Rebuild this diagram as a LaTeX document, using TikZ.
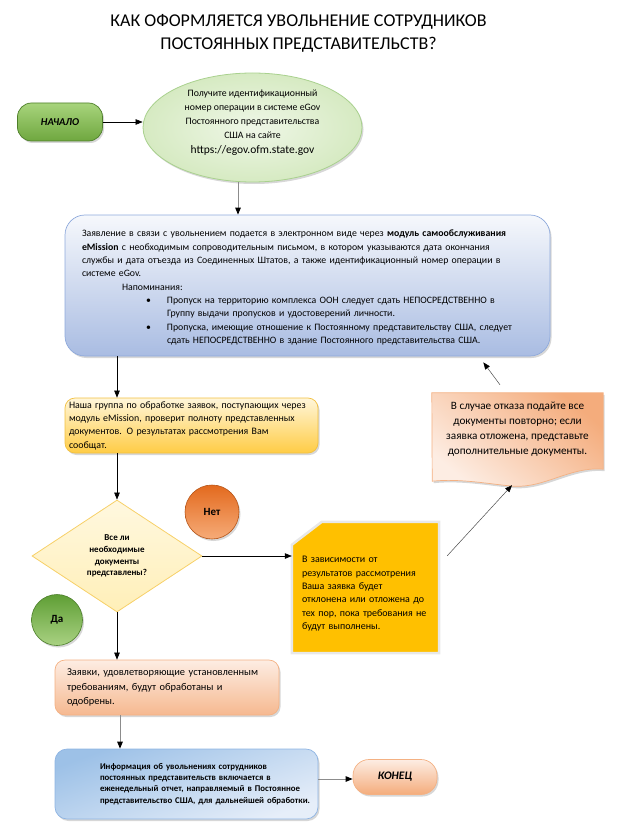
\documentclass[tikz,border=0pt]{standalone}
\usepackage{fontspec}
\setmainfont{Carlito}
\usetikzlibrary{positioning,calc,shadows,shapes.geometric,arrows.meta,backgrounds}
\definecolor{startgreen}{HTML}{6FA73F}
\definecolor{startlight}{HTML}{A8D47C}
\definecolor{startdark}{HTML}{4E7F2A}
\definecolor{egovfill}{HTML}{D6EAC2}
\definecolor{egovline}{HTML}{A9D18E}
\definecolor{appltop}{HTML}{F6F8FC}
\definecolor{applbottom}{HTML}{A9BCE2}
\definecolor{applline}{HTML}{8FAADC}
\definecolor{checktop}{HTML}{FFF6DA}
\definecolor{checkbottom}{HTML}{FFCC45}
\definecolor{checkline}{HTML}{F2C040}
\definecolor{diamfill}{HTML}{FFEFB8}
\definecolor{diamline}{HTML}{F7D068}
\definecolor{notop}{HTML}{E36A1E}
\definecolor{nobottom}{HTML}{F6AB78}
\definecolor{yestop}{HTML}{5F9E35}
\definecolor{yesbottom}{HTML}{A9D282}
\definecolor{rejectfill}{HTML}{FFC000}
\definecolor{peachdark}{HTML}{F4AC7C}
\definecolor{peachlight}{HTML}{FDEDE3}
\definecolor{peachline}{HTML}{F4B183}
\definecolor{reporttop}{HTML}{9DC1E7}
\definecolor{reportbottom}{HTML}{E6EEF9}
\definecolor{reportline}{HTML}{8EB4E3}
\tikzset{
  shadowed/.style={drop shadow={shadow xshift=1.5pt,shadow yshift=-2pt,fill=black!35,opacity=0.45}},
  terminal/.style={rectangle, rounded corners=14pt, inner sep=0pt, line width=0.7pt, shadowed},
  roundbox/.style={rectangle, rounded corners=10pt, line width=0.7pt, inner ysep=0pt, align=left, shadowed},
  answer/.style={circle, inner sep=0pt, line width=0.6pt, font=\fontsize{11}{13}\selectfont\bfseries, shadowed},
  arr/.style={-{Triangle[length=7pt,width=5.5pt]}, line width=0.6pt},
  grayarr/.style={draw=black!45, line width=1pt, -{Triangle[length=7pt,width=5.5pt,color=black]}},
  thinarr/.style={draw=black!70, line width=0.5pt, -{Triangle[length=7pt,width=5.5pt,color=black]}}
}
\begin{document}
\begin{tikzpicture}[x=1pt,y=-1pt]
\useasboundingbox (0,0) rectangle (624,837);

\node[align=center, font=\fontsize{18}{23}\selectfont] (title) at (298.5,33.5)
  {КАК ОФОРМЛЯЕТСЯ УВОЛЬНЕНИЕ СОТРУДНИКОВ\\ПОСТОЯННЫХ ПРЕДСТАВИТЕЛЬСТВ?};

\node[terminal, draw=startdark, top color=startlight, bottom color=startgreen, minimum width=85pt, minimum height=38pt, font=\fontsize{10.5}{12}\selectfont\bfseries\itshape] (start) at (60,122) {НАЧАЛО};

\node[ellipse, draw=egovline, line width=0.8pt, inner color=egovfill!40!white, outer color=egovfill, minimum width=219pt, minimum height=109pt, inner sep=0pt, align=center, font=\fontsize{9.8}{14.3}\selectfont, shadowed] (egov) at (252.5,127.5)
  {Получите идентификационный\\номер операции в системе eGov\\Постоянного представительства\\США на сайте\\{\fontsize{11.5}{14.3}\selectfont https://egov.ofm.state.gov}\\[-2pt]\mbox{}};

% main application box
\node[roundbox, rounded corners=20pt, draw=applline, top color=appltop, bottom color=applbottom, minimum width=485pt, minimum height=141pt, inner xsep=5pt, text width=475pt, font=\fontsize{9.8}{13.3}\selectfont] (appl) at (307.5,285.5)
  {\leftskip=12pt \rule{0pt}{11pt}Заявление в связи с увольнением подается в электронном виде через \textbf{модуль самообслуживания}\\
   \textbf{eMission} с необходимым сопроводительным письмом, в котором указываются дата окончания\\
   службы и дата отъезда из Соединенных Штатов, а также идентификационный номер операции в\\
   системе eGov.\\
   \hspace*{40pt}Напоминания:\\
   \hspace*{64pt}\makebox[21pt][l]{\textbullet}Пропуск на территорию комплекса ООН следует сдать НЕПОСРЕДСТВЕННО в\\
   \hspace*{85pt}Группу выдачи пропусков и удостоверений личности.\\
   \hspace*{64pt}\makebox[21pt][l]{\textbullet}Пропуска, имеющие отношение к Постоянному представительству США, следует\\
   \hspace*{85pt}сдать НЕПОСРЕДСТВЕННО в здание Постоянного представительства США.\par};

\node[roundbox, draw=checkline, top color=checktop, bottom color=checkbottom, minimum width=253pt, minimum height=55pt, inner xsep=2pt, text width=249pt, font=\fontsize{9.9}{13.3}\selectfont] (check) at (191.5,425.5)
  {\leftskip=2pt Наша группа по обработке заявок, поступающих через\\модуль eMission, проверит полноту представленных\\документов. О результатах рассмотрения Вам\\сообщат.\par};

\node[diamond, draw=diamline, line width=0.8pt, top color=diamfill!45!white, bottom color=diamfill, minimum width=170pt, minimum height=112pt, inner sep=0pt, align=center, font=\fontsize{9}{11.8}\selectfont\bfseries] (complete) at (117,556)
  {Все ли\\необходимые\\документы\\представлены?};

\node[answer, draw=notop!80!black, top color=notop, bottom color=nobottom, minimum size=54pt] (no) at (212,512) {Нет};
\node[answer, draw=yestop!80!black, top color=yestop, bottom color=yesbottom, minimum size=51pt] (yes) at (57,620) {Да};

% snipped box
\node[rectangle, minimum width=147pt, minimum height=131pt, inner xsep=3pt, inner ysep=0pt, text width=141pt, align=left, font=\fontsize{10}{13.3}\selectfont] (reject) at (365.5,587.5)
  {\leftskip=7pt \rule{0pt}{19pt}В зависимости от\\результатов рассмотрения\\Ваша заявка будет\\отклонена или отложена до\\тех пор, пока требования не\\будут выполнены.\par};

% document with wavy bottom
\node[minimum width=171pt, minimum height=72pt, inner sep=0pt, align=center, font=\fontsize{11.2}{15}\selectfont] (resubmit) at (517.5,429)
  {В случае отказа подайте все\\документы повторно; если\\заявка отложена, представьте\\дополнительные документы.};

\begin{scope}[on background layer]
\path[fill=rejectfill, draw=black!9, line width=2.5pt]
  ($(reject.north west)+(0,23)$) -- ($(reject.north west)+(30,0)$) -- (reject.north east)
  -- (reject.south east) -- (reject.south west) -- cycle;
\path[draw=peachline, line width=0.7pt, shading=axis, top color=peachdark, bottom color=peachlight, shading angle=-40, shadowed]
  (resubmit.north west) -- (resubmit.north east) -- ($(resubmit.south east)+(0,4)$)
  .. controls +(-33,-3) and +(32,2) .. ++(-90,17)
  .. controls +(-23,-2) and +(28,-3) .. ++(-81,-5) -- cycle;
\end{scope}

\node[roundbox, draw=peachline, top color=peachlight, bottom color=peachdark!85!white, minimum width=224pt, minimum height=55pt, inner xsep=3pt, text width=218pt, font=\fontsize{10.4}{14.5}\selectfont] (approved) at (167,687.5)
  {\leftskip=9pt Заявки, удовлетворяющие установленным\\требованиям, будут обработаны и\\одобрены.\par};

\node[roundbox, rounded corners=12pt, draw=reportline, top color=reporttop, bottom color=reportbottom, shading angle=20, minimum width=263pt, minimum height=70pt, inner xsep=0.5pt, text width=262pt, font=\fontsize{8.8}{11.3}\selectfont\bfseries] (report) at (186.5,784)
  {\leftskip=44.5pt Информация об увольнениях сотрудников\\постоянных представительств включается в\\еженедельный отчет, направляемый в Постоянное\\представительство США, для дальнейшей обработки.\par};

\node[terminal, rounded corners=16pt, draw=peachline, top color=peachlight, bottom color=peachdark, minimum width=84pt, minimum height=35pt, font=\fontsize{11.5}{13}\selectfont\bfseries\itshape] (finish) at (395,777) {КОНЕЦ};

% connectors
\draw[arr] (start.east) -- (start.east -| egov.west);
\draw[grayarr] ([xshift=-14.5pt]egov.south) -- ([xshift=-14.5pt]egov.south |- appl.north);
\draw[arr] (appl.south -| complete.north) -- (check.north -| complete.north);
\draw[arr] (check.south -| complete.north) -- (complete.north);
\draw[arr] (complete.east) -- (complete.east -| reject.west);
\draw[thinarr] ($(reject.north east)+(8,34)$) -- ($(resubmit.south)+(-5.5,20)$);
\draw[thinarr] ($(resubmit.north)+(-17.5,-8)$) -- ($(appl.south east)+(-67,6)$);
\draw[arr] (complete.south) -- (approved.north -| complete.south);
\draw[grayarr] ([xshift=-47pt]approved.south) -- ([xshift=-47pt]approved.south |- report.north);
\draw[grayarr] ([yshift=5pt]report.east) -- ([yshift=5pt]report.east -| finish.west);
\end{tikzpicture}
\end{document}
